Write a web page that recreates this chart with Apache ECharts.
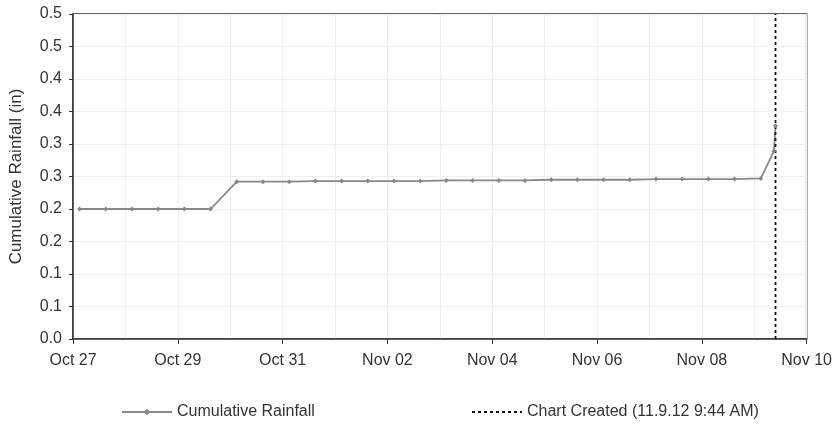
<!DOCTYPE html>
<html>
<head>
<meta charset="utf-8">
<script src="https://cdn.jsdelivr.net/npm/echarts@6/dist/echarts.min.js"></script>
<style>html,body{margin:0;padding:0;background:#fff}#c{width:835px;height:428px}</style>
</head>
<body>
<div id="c"></div>
<script>
// ---- data ----
const startDate = '2012-10-27T00:00:00';
const rainTimes = [
  '2012-10-27T03:00','2012-10-27T15:00','2012-10-28T03:00','2012-10-28T15:00',
  '2012-10-29T03:00','2012-10-29T15:00','2012-10-30T03:00','2012-10-30T15:00',
  '2012-10-31T03:00','2012-10-31T15:00','2012-11-01T03:00','2012-11-01T15:00',
  '2012-11-02T03:00','2012-11-02T15:00','2012-11-03T03:00','2012-11-03T15:00',
  '2012-11-04T03:00','2012-11-04T15:00','2012-11-05T03:00','2012-11-05T15:00',
  '2012-11-06T03:00','2012-11-06T15:00','2012-11-07T03:00','2012-11-07T15:00',
  '2012-11-08T03:00','2012-11-08T15:00','2012-11-09T03:00','2012-11-09T09:00',
  '2012-11-09T09:44'
];
const rainValues = [
  0.200,0.200,0.200,0.200,0.200,0.200,0.242,0.242,
  0.242,0.243,0.243,0.243,0.243,0.243,0.244,0.244,
  0.244,0.244,0.245,0.245,0.245,0.245,0.246,0.246,
  0.246,0.246,0.247,0.289,0.328
];
const createdTime = '2012-11-09T09:44';
const createdValues = [0, 0.5];
const xTickLabels = ['Oct 27','Oct 29','Oct 31','Nov 02','Nov 04','Nov 06','Nov 08','Nov 10'];
const yTickLabels = ['0.0','0.1','0.1','0.2','0.2','0.3','0.3','0.4','0.4','0.5','0.5'];
const seriesNames = ['Cumulative Rainfall','Chart Created (11.9.12 9:44 AM)'];

// ---- helpers ----
const t0 = new Date(startDate).getTime();
const toDays = s => (new Date(s).getTime() - t0) / 86400000;
const rainData = rainTimes.map((t, i) => [toDays(t), rainValues[i]]);
const createdData = createdValues.map(v => [toDays(createdTime), v]);

const FONT = "'Liberation Sans', Arial, sans-serif";
const TXT = '#333';
const chart = echarts.init(document.getElementById('c'));
chart.setOption({
  animation: false,
  backgroundColor: '#fff',
  grid: { left: 73, right: 28, top: 14, bottom: 89, show: true, borderColor: '#333', borderWidth: 1.5 },
  xAxis: {
    type: 'value', min: 0, max: 14, interval: 2,
    axisLine: { show: true, onZero: false, lineStyle: { color: '#333', width: 1.5 } },
    axisTick: { show: true, length: 5, lineStyle: { color: '#333' } },
    axisLabel: { color: TXT, fontFamily: FONT, fontSize: 16, margin: 14,
      formatter: v => xTickLabels[Math.round(v / 2)] || '' },
    splitLine: { show: true, lineStyle: { color: '#efefef', width: 1 } },
    minorTick: { show: false, splitNumber: 2 },
    minorSplitLine: { show: true, lineStyle: { color: '#efefef', width: 1 } }
  },
  yAxis: {
    type: 'value', min: 0, max: 0.5, interval: 0.05,
    name: 'Cumulative Rainfall (in)', nameLocation: 'middle', nameGap: 48,
    nameTextStyle: { color: TXT, fontFamily: FONT, fontSize: 17 },
    axisLine: { show: true, lineStyle: { color: '#333', width: 1.5 } },
    axisTick: { show: true, length: 4, lineStyle: { color: '#333' } },
    axisLabel: { color: TXT, fontFamily: FONT, fontSize: 16, margin: 11,
      formatter: v => yTickLabels[Math.round(v / 0.05)] || '' },
    splitLine: { show: true, lineStyle: { color: '#efefef', width: 1 } }
  },
  legend: [
    { data: [seriesNames[0]], left: 116, top: 399, itemWidth: 50, itemHeight: 8,
      textStyle: { color: TXT, fontFamily: FONT, fontSize: 16 } },
    { data: [{ name: seriesNames[1], itemStyle: { opacity: 0 } }], left: 466, top: 399,
      itemWidth: 50, itemHeight: 8,
      textStyle: { color: TXT, fontFamily: FONT, fontSize: 16 } }
  ],
  series: [
    { name: seriesNames[0], type: 'line', data: rainData,
      symbol: 'diamond', symbolSize: 5, showSymbol: true,
      lineStyle: { color: '#888', width: 1.8 },
      itemStyle: { color: '#888' } },
    { name: seriesNames[1], type: 'line', data: createdData,
      symbol: 'none',
      lineStyle: { color: '#111', width: 1.8, type: [3, 3] },
      itemStyle: { color: '#111' } }
  ]
});
</script>
</body>
</html>
